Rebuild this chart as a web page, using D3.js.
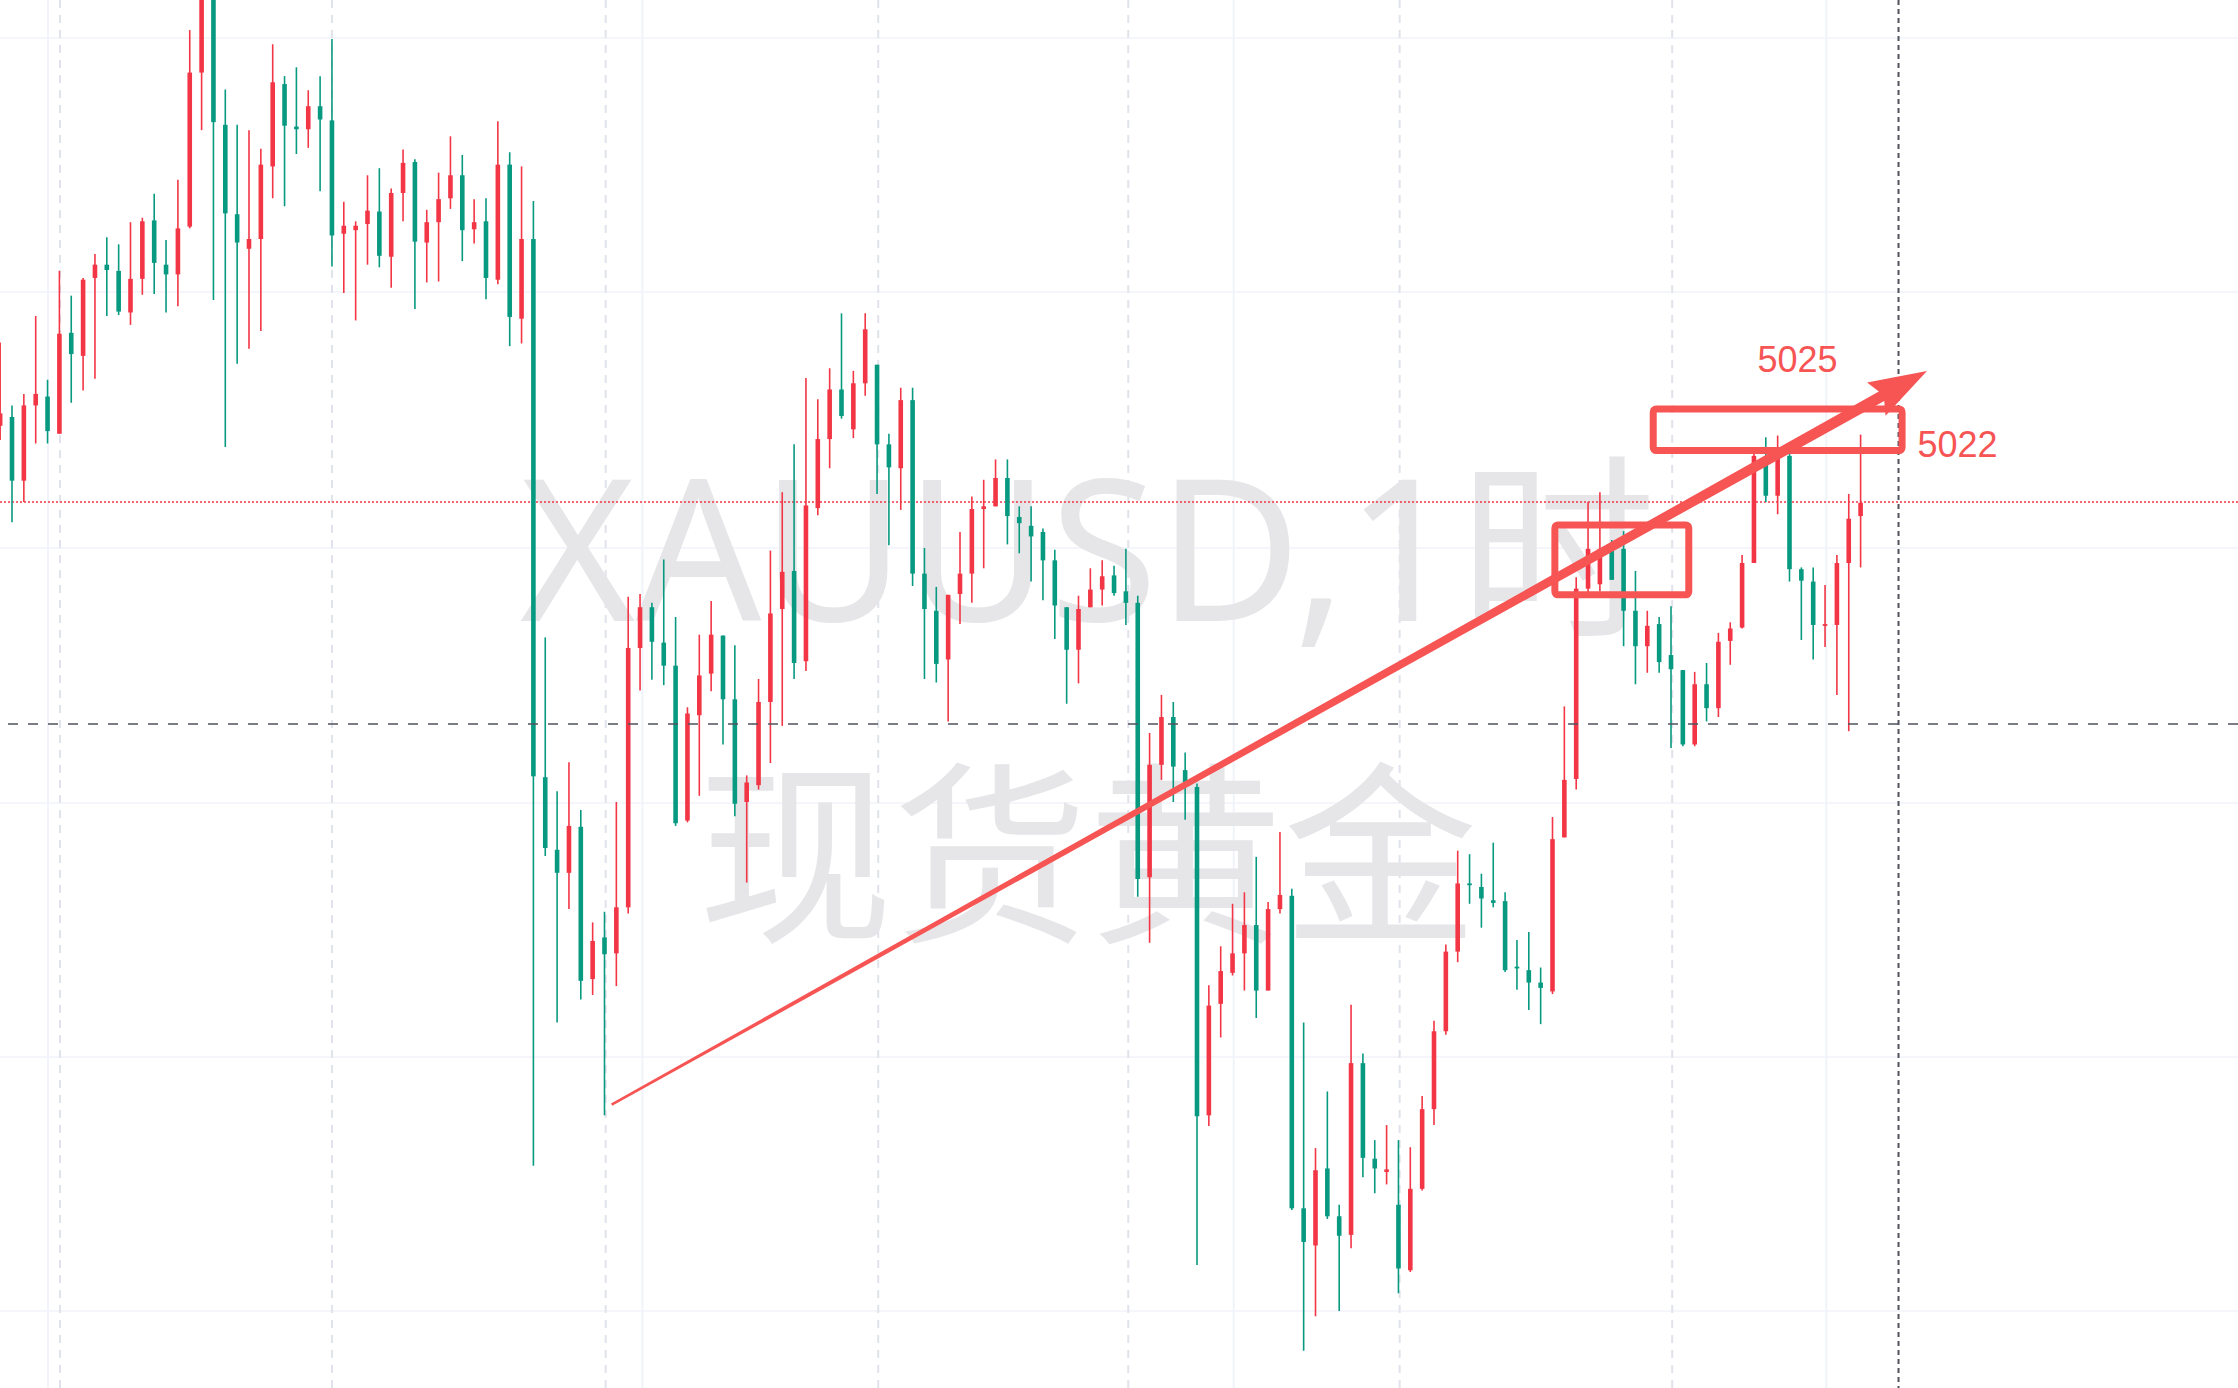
<!DOCTYPE html>
<html><head><meta charset="utf-8">
<script src="https://cdn.jsdelivr.net/npm/d3@7"></script>
<style>html,body{margin:0;padding:0;background:#fff;overflow:hidden}</style>
</head><body><svg id="c" width="2238" height="1388"></svg>
<script>
// OHLC of XAUUSD 1h candles (index 0..157)
const opens=[5021.9,5022.9,5015.7,5024.2,5025.2,5021,5032.4,5029.8,5038.6,5040.1,5039.4,5034.7,5038.5,5045.1,5040.1,5039,5044.4,5061.8,5070.5,5055.9,5045.8,5041.9,5043,5051.2,5060.5,5055.7,5055.4,5058,5056.4,5043.6,5044,5044.7,5046.1,5041,5048.2,5051.7,5042.6,5044.9,5047.6,5050.2,5044.1,5045,5038.4,5051.4,5034,5043,4982.2,4974,4971.4,4976.6,4959.4,4964.1,4962.3,4967.5,4996.8,5001.4,4997.4,4994.8,4977.3,4989.2,4993.9,4998.2,4991,4979.4,4981.3,4990.7,5001.2,5005.5,4995.3,5012.6,5020.4,5026,5021.5,5026.7,5028.8,5019.8,5017.1,5024.8,5005.2,5001,4995.5,5002.9,5005.2,5012.5,5012.8,5016,5011.6,5010.6,5009.9,5006.7,5001.4,4996.6,5001.4,5003.4,5005,5003.2,5001.9,4970.9,4983.6,4989,4983,4981.1,4944,4956.6,4960.1,4962.3,4965.5,4958.1,4967.3,4968.8,4933.5,4929.3,4938,4932.6,4930.5,4949.9,4939.1,4937.6,4933.9,4926.5,4935.7,4944.7,4953.5,4962.5,4970.2,4969.8,4968.3,4968.2,4960.8,4960.4,4959,4958,4975.4,4982,5003.5,5004,5007.8,5008,5001,4997,4999.5,4996,4994.3,4985.9,4992.7,4990,4997.6,4999.1,5006.4,5018,5014,5018.5,5005.7,5004.3,4999.3,4999.4,5006.4,5011.7];
const highs=[5031.3,5024.2,5025.5,5034.3,5027.1,5039.4,5036.6,5038.6,5041.3,5043.2,5042.4,5044.9,5045.4,5048.1,5042.9,5049.7,5066.6,5072,5071,5059.9,5055.9,5055.3,5053.2,5065,5061.4,5062.4,5059.8,5061.4,5065.6,5047.2,5045,5050.2,5051,5048.7,5053.1,5052,5046.3,5050.5,5054.6,5052.5,5047.5,5047.6,5056.3,5052.8,5051.2,5047.3,4998,4980.6,4983.9,4978.5,4965.8,4967,4979.4,5002.6,5002.9,5001.9,5006.8,5000.3,4990.1,4998.3,5002.1,4998.2,4997.1,4982.4,4993.3,5007.8,5014.4,5019.8,5027.3,5024.9,5028.4,5034.6,5028.1,5034.6,5028.8,5021,5026.2,5026.2,5008.1,5003.7,5002.8,5009.9,5013.9,5015.8,5018.1,5018.1,5012.8,5012.8,5010.3,5007.9,5001.4,5002.7,5005.8,5006.7,5006.1,5008,5002.7,4987.2,4991.5,4990.7,4985,4981.5,4958.7,4963.1,4967.9,4969.2,4973.2,4968.1,4976,4969.6,4954.5,4940.3,4946.7,4933.9,4956.5,4951,4941.2,4942.9,4941.2,4940.4,4946.2,4954.7,4963.3,4973.9,4973.5,4971.3,4974.8,4969.2,4963.8,4964.7,4960.7,4977.7,4990.2,5004.8,5013.3,5014.4,5009,5010,5005.5,5001,5000.3,5001.5,4994.3,4994.1,4995.1,4998.5,4999.7,5007.3,5019.5,5020.6,5020.8,5019.5,5005.9,5005.9,5003.9,5007.3,5014.2,5020.9];
const lows=[5020.3,5011,5013.3,5019.9,5019.9,5021,5024.5,5025.9,5027.2,5034.3,5034.4,5033.3,5036.7,5036.8,5034.7,5035.4,5044.2,5055.3,5036.1,5019.5,5028.9,5030.6,5032.6,5047.6,5046.7,5052.6,5053.3,5048.4,5039.9,5036.9,5033.8,5040.1,5039.8,5037.5,5045,5035.1,5038.1,5038.2,5046.4,5040.5,5042.5,5036.2,5037.9,5030.9,5031.2,4938.3,4973.3,4954.5,4967.3,4957.1,4957.6,4944,4958.6,4966.8,4992,4993.2,4992.6,4976.7,4977.1,4980.1,4991.9,4985.9,4977.8,4970.3,4980.8,4983.8,4988,4993.3,4994.2,5011.8,5017.1,5022.7,5020.5,5025.3,5014.2,5008.4,5012.4,5003.8,4993.3,4992.9,4988.5,4999.5,5001.9,5005.8,5012.8,5008.5,5007.5,5004.3,5002.2,4997.8,4990.5,4992.8,5001.4,5001.6,5002.7,4999.4,4968.7,4963.5,4981.9,4979.4,4977.4,4927.1,4942.8,4952.8,4959.8,4958.1,4955,4958.1,4966.8,4933.3,4917.4,4921.3,4932.3,4921.9,4929,4937,4935.2,4936.2,4923.9,4926.3,4935.5,4942.9,4953.1,4961.3,4967.9,4965.2,4967.5,4960.2,4958.2,4955.9,4954.3,4957.7,4975.4,4980.8,5003,5003.2,5004.5,4997,4992.7,4994,4994,4985.5,4985.7,4985.7,4988.5,4989,4994.9,4999,5006.4,5013.3,5011.9,5004.3,4997.7,4995.5,4996.9,4991.5,4987.4,5005.9];
const closes=[5023.3,5015.7,5024.2,5025.5,5021.3,5032.3,5030,5038.4,5040.1,5039.5,5034.8,5038.5,5045,5040.3,5039,5044.2,5061.8,5070,5056.2,5045.9,5042.6,5043,5051.4,5060.7,5055.8,5055.4,5058,5056.5,5043.4,5044.5,5044.5,5046.2,5041.1,5048.2,5051.6,5042.7,5044.9,5047.5,5050.2,5044,5044.9,5038.6,5051.4,5034.2,5043,4982.3,4974.2,4971.4,4976.7,4959.2,4963.7,4962.2,4967.5,4996.8,5001.4,4997.5,4994.8,4977,4989.4,4993.7,4998.3,4991,4979.2,4981.6,4990.7,5000.7,5005.4,4995.1,5012.9,5020.4,5026,5023,5026.7,5032.8,5019.8,5017.2,5024.8,5005.2,5001.2,4995,5002.8,5005.2,5012.5,5012.8,5016,5011.7,5010.9,5009.4,5006.7,5001.6,4996.6,5001.2,5003.4,5004.9,5003,5001.9,4970.7,4983.6,4989,4983.4,4981.6,4943.9,4956.4,4960.3,4962.3,4965.5,4958.1,4967.3,4968.9,4933.5,4929.7,4937.8,4932.6,4930.4,4949.9,4939.2,4938,4937.9,4926.7,4935.7,4944.7,4953.5,4962.5,4970.2,4970,4968.5,4968,4960.4,4960.6,4959,4958.4,4975.2,4981.9,5003.5,5008,5008,5004.5,5001,4997,4999.3,4995.2,4994.4,4985.9,4992.7,4990,4997.5,4999,5006.4,5018.5,5014,5018.5,5005.7,5004.4,4999.4,4999.5,5006.4,5011.4,5013.2];
const gridPrices=[5065.7,5037,5008.1,4979.3,4950.6,4921.9];
const sessionBreaks=[5.05,28,51.1,74.1,95.2,118.1,141.1];   // dashed day separators (bar index)
const weekGrid=[4.04,54.2,104.1,154.1];                      // solid vertical grid (bar index)
const lastPrice=5013.3, crossPrice=4988.2, crossBar=160.2;
const trendStart=[51.6,4945.2], trendTip=[162.6,5028.1];
const boxes=[[131.2,142.5,5010.7,5002.8],[139.5,160.5,5023.8,5019.1]];
const labels=[{t:"5025",bar:148.3,p:5028.0},{t:"5022",bar:161.8,p:5018.4}];

const W=2238,H=1388;
const svg=d3.select("#c");
const x=d3.scaleLinear().domain([0,157]).range([0.15,1860.6]);
const y=d3.scaleLinear().domain([4913.2,5070]).range([H,0]);
const data=opens.map((o,i)=>({i,o,h:highs[i],l:lows[i],c:closes[i]}));
const UP="#F23645",DN="#089981";

const g=svg.append("g");
g.selectAll(".hg").data(gridPrices).join("line").attr("x1",0).attr("x2",W)
 .attr("y1",d=>y(d)).attr("y2",d=>y(d)).attr("stroke","#f0f3fa").attr("stroke-width",1.5);
g.selectAll(".vw").data(weekGrid).join("line").attr("x1",d=>x(d)).attr("x2",d=>x(d))
 .attr("y1",0).attr("y2",H).attr("stroke","#f0f3fa").attr("stroke-width",2);
g.selectAll(".vs").data(sessionBreaks).join("line").attr("x1",d=>x(d)).attr("x2",d=>x(d))
 .attr("y1",0).attr("y2",H).attr("stroke","#e0e3eb").attr("stroke-width",2).attr("stroke-dasharray","8,7");

// watermark
svg.append("text").attr("x",1088).attr("y",621).attr("text-anchor","middle")
 .attr("font-family","'Noto Sans','Noto Sans CJK SC',sans-serif").attr("font-size",197)
 .attr("fill","#e6e6e9").text("XAUUSD,1时");
svg.append("text").attr("x",1088).attr("y",843).attr("text-anchor","middle").attr("dominant-baseline","central")
 .attr("font-family","'Noto Sans CJK SC',sans-serif").attr("font-size",195)
 .attr("fill","#e6e6e9").text("现货黄金");

// price lines
svg.append("line").attr("x1",0).attr("x2",W).attr("y1",y(lastPrice)).attr("y2",y(lastPrice))
 .attr("stroke",UP).attr("stroke-width",1.5).attr("stroke-dasharray","2,2");

// candles
const cg=svg.append("g");
cg.selectAll(".w").data(data).join("line").attr("x1",d=>x(d.i)).attr("x2",d=>x(d.i))
 .attr("y1",d=>y(d.h)).attr("y2",d=>y(d.l)).attr("stroke",d=>d.c>=d.o?UP:DN).attr("stroke-width",1.6);
cg.selectAll(".b").data(data).join("rect").attr("x",d=>x(d.i)-2.3).attr("width",4.6)
 .attr("y",d=>y(Math.max(d.o,d.c))).attr("height",d=>Math.max(1.5,Math.abs(y(d.o)-y(d.c))))
 .attr("fill",d=>d.c>=d.o?UP:DN);

// crosshair
svg.append("line").attr("x1",0).attr("x2",W).attr("y1",y(crossPrice)).attr("y2",y(crossPrice))
 .attr("stroke","#50535e").attr("stroke-width",1.5).attr("stroke-dasharray","10,10").attr("stroke-dashoffset",-8);
svg.append("line").attr("x1",x(crossBar)).attr("x2",x(crossBar)).attr("y1",0).attr("y2",H)
 .attr("stroke","#50535e").attr("stroke-width",2).attr("stroke-dasharray","5,4");

// annotations
const AC="#F75454";
const ag=svg.append("g");
ag.selectAll(".bx").data(boxes).join("rect").attr("x",d=>x(d[0])).attr("width",d=>x(d[1])-x(d[0]))
 .attr("y",d=>y(d[2])).attr("height",d=>y(d[3])-y(d[2])).attr("rx",3)
 .attr("fill","none").attr("stroke",AC).attr("stroke-width",7);
const sx=x(trendStart[0]),sy=y(trendStart[1]),tx=x(trendTip[0]),ty=y(trendTip[1]);
const L=Math.hypot(tx-sx,ty-sy),ux=(tx-sx)/L,uy=(ty-sy)/L,nx=-uy,ny=ux;
const hl=58,hw=19,bx=tx-ux*hl,by=ty-uy*hl,w0=1.3,w1=5.5;
ag.append("path").attr("fill",AC).attr("d",d3.line()([
 [sx+nx*w0,sy+ny*w0],[bx+ux*6+nx*w1,by+uy*6+ny*w1],[bx+nx*hw,by+ny*hw],[tx,ty],
 [bx-nx*hw,by-ny*hw],[bx+ux*6-nx*w1,by+uy*6-ny*w1],[sx-nx*w0,sy-ny*w0]])+"Z");
ag.selectAll(".lb").data(labels).join("text").attr("x",d=>x(d.bar)).attr("y",d=>y(d.p))
 .attr("font-family","'Liberation Sans',Arial,sans-serif").attr("font-size",36)
 .attr("fill",AC).text(d=>d.t);
</script></body></html>
